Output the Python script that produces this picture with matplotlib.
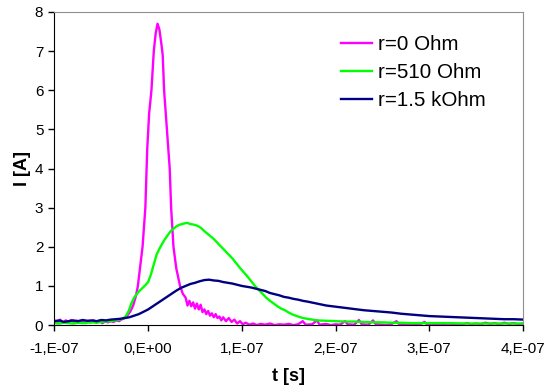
import matplotlib
matplotlib.use("Agg")
import matplotlib.pyplot as plt
import numpy as np

# time in ns, current in A
t_r0 = [-100, -97, -94, -91, -88, -85, -82, -79, -76, -73, -70, -67, -64, -61, -58,
        -55, -52, -49, -46, -43, -40, -37, -34, -31, -28, -25, -22, -19, -16, -13,
        -11, -8.5, -6, -3, -1, 1, 3.5, 6, 8, 10, 12, 14, 15.5, 17, 20, 23, 24.5, 27,
        30, 34, 37, 40, 42, 44, 46, 48, 50, 52, 54, 56, 58, 60, 62, 64, 66, 68, 70,
        72, 74, 76, 78, 80, 83, 86, 89, 92, 95, 98, 101, 104, 108, 112, 116, 120,
        125, 130, 135, 140, 145, 150, 155, 160, 165, 168, 175, 180, 183, 190, 195,
        200, 205, 210, 213, 220, 225, 228, 235, 240, 243, 250, 255, 260, 265, 268,
        275, 280, 285, 290, 295, 298, 305, 310, 315, 320, 325, 330, 335, 340, 345,
        350, 355, 360, 365, 370, 375, 380, 385, 390, 395, 400]
i_r0 = [0.12, 0.05, 0.14, 0.06, 0.12, 0.08, 0.13, 0.07, 0.11, 0.06, 0.12, 0.05, 0.10,
        0.07, 0.12, 0.06, 0.11, 0.05, 0.09, 0.07, 0.10, 0.08, 0.12, 0.10, 0.15, 0.18,
        0.25, 0.35, 0.50, 0.75, 1.00, 1.50, 2.00, 3.00, 4.50, 5.40, 6.00, 7.00, 7.45,
        7.70, 7.55, 7.20, 6.90, 6.00, 5.00, 4.00, 3.00, 2.00, 1.45, 1.00, 0.80, 0.70,
        0.50, 0.62, 0.48, 0.58, 0.42, 0.55, 0.40, 0.52, 0.33, 0.40, 0.28, 0.36, 0.24,
        0.30, 0.20, 0.28, 0.18, 0.22, 0.12, 0.20, 0.10, 0.18, 0.08, 0.14, 0.04, 0.10,
        0.02, 0.06, 0.01, 0.04, 0.00, 0.03, 0.01, 0.04, 0.00, 0.02, 0.01, 0.03, 0.00,
        0.02, 0.10, 0.01, 0.02, 0.12, 0.01, 0.03, 0.00, 0.02, 0.01, 0.10, 0.02, 0.01,
        0.13, 0.02, 0.01, 0.12, 0.02, 0.01, 0.00, 0.03, 0.10, 0.02, 0.01, 0.03, 0.00,
        0.02, 0.08, 0.01, 0.02, 0.03, 0.01, 0.04, 0.01, 0.03, 0.01, 0.05, 0.02, 0.04,
        0.02, 0.06, 0.03, 0.05, 0.02, 0.06, 0.03, 0.05, 0.02, 0.04]

t_r510 = [-100, -95, -90, -85, -80, -75, -70, -65, -60, -55, -50, -45, -40, -35, -30,
          -27, -24, -21, -18, -15, -12, -9, -6, -3, 0, 3, 6, 9, 12, 15, 18, 21, 24, 27,
          30, 33, 36, 39, 42, 45, 48, 51, 54, 57, 60, 63, 66, 70, 74, 78, 82, 86, 90,
          94, 98, 102, 106, 110, 114, 118, 122, 126, 130, 134, 138, 142, 146, 150, 155,
          160, 165, 170, 175, 180, 190, 200, 210, 220, 230, 240, 250, 260, 270, 280,
          290, 300, 320, 340, 360, 380, 400]
i_r510 = [0.05, 0.04, 0.06, 0.05, 0.04, 0.06, 0.05, 0.06, 0.07, 0.06, 0.08, 0.09, 0.10,
          0.12, 0.14, 0.17, 0.22, 0.35, 0.55, 0.70, 0.80, 0.88, 0.95, 1.02, 1.10, 1.30,
          1.55, 1.80, 1.95, 2.08, 2.20, 2.30, 2.40, 2.46, 2.52, 2.56, 2.58, 2.60, 2.61,
          2.58, 2.57, 2.55, 2.52, 2.47, 2.40, 2.34, 2.28, 2.20, 2.10, 2.00, 1.90, 1.80,
          1.70, 1.58, 1.46, 1.35, 1.24, 1.12, 1.00, 0.90, 0.80, 0.70, 0.62, 0.55, 0.48,
          0.42, 0.38, 0.32, 0.26, 0.22, 0.18, 0.16, 0.14, 0.12, 0.11, 0.10, 0.09, 0.09,
          0.08, 0.07, 0.07, 0.06, 0.06, 0.05, 0.05, 0.05, 0.05, 0.04, 0.04, 0.04, 0.04]

t_r1k5 = [-100, -95, -90, -85, -80, -75, -70, -65, -60, -55, -50, -45, -40, -35, -30,
          -25, -20, -15, -10, -5, 0, 5, 10, 15, 20, 25, 30, 35, 40, 45, 50, 55, 60, 65,
          70, 75, 80, 85, 90, 95, 100, 105, 110, 115, 120, 125, 130, 135, 140, 145, 150,
          155, 160, 165, 170, 180, 190, 200, 210, 220, 230, 240, 250, 260, 270, 280, 290,
          300, 310, 320, 330, 340, 350, 360, 370, 380, 390, 400]
i_r1k5 = [0.10, 0.12, 0.08, 0.10, 0.12, 0.10, 0.13, 0.11, 0.12, 0.10, 0.13, 0.12, 0.14,
          0.15, 0.16, 0.18, 0.20, 0.24, 0.28, 0.34, 0.40, 0.48, 0.56, 0.64, 0.72, 0.80,
          0.88, 0.95, 1.00, 1.05, 1.08, 1.12, 1.15, 1.16, 1.14, 1.13, 1.10, 1.08, 1.06,
          1.03, 1.00, 0.98, 0.96, 0.93, 0.90, 0.87, 0.82, 0.79, 0.76, 0.72, 0.70, 0.67,
          0.65, 0.62, 0.60, 0.55, 0.50, 0.47, 0.44, 0.41, 0.38, 0.36, 0.34, 0.32, 0.29,
          0.27, 0.25, 0.23, 0.22, 0.21, 0.20, 0.19, 0.18, 0.17, 0.16, 0.15, 0.15, 0.14]

labels = ['r=0 Ohm', 'r=510 Ohm', 'r=1.5 kOhm']
colors = ['#FF00FF', '#00FF00', '#000080']

x_ticks = [-1e-7, 0, 1e-7, 2e-7, 3e-7, 4e-7]
x_ticklabels = ['-1,E-07', '0,E+00', '1,E-07', '2,E-07', '3,E-07', '4,E-07']
y_ticks = [0, 1, 2, 3, 4, 5, 6, 7, 8]

plt.rcParams['font.family'] = ['Liberation Sans', 'DejaVu Sans']

fig = plt.figure(figsize=(5.47, 3.87), dpi=100)
ax = fig.add_axes([0.0996, 0.160, 0.8564, 0.809])

series = [(t_r0, i_r0), (t_r510, i_r510), (t_r1k5, i_r1k5)]
for (t, i), lbl, c in zip(series, labels, colors):
    ax.plot(np.array(t) * 1e-9, i, color=c, lw=1.7, label=lbl)

ax.set_xlim(-1e-7, 4e-7)
ax.set_ylim(0, 8)
ax.set_xticks(x_ticks)
ax.set_xticklabels(x_ticklabels)
ax.set_yticks(y_ticks)
ax.tick_params(labelsize=11, length=4, width=1, colors='black')
ax.tick_params(axis='x', pad=8)
ax.tick_params(axis='y', pad=4)

for side in ['top', 'right']:
    ax.spines[side].set_color('#909090')
for side in ['left', 'bottom']:
    ax.spines[side].set_color('black')

ax.set_xlabel('t [s]', fontsize=13, fontweight='bold', labelpad=9)
ax.set_ylabel('I [A]', fontsize=13, fontweight='bold', labelpad=3)

ax.legend(loc='upper left', bbox_to_anchor=(0.611, 0.927), frameon=False, fontsize=14.8,
          borderpad=0, borderaxespad=0, handlelength=1.5, handletextpad=0.3,
          labelspacing=0.45)

fig.savefig('out.png', dpi=100)
